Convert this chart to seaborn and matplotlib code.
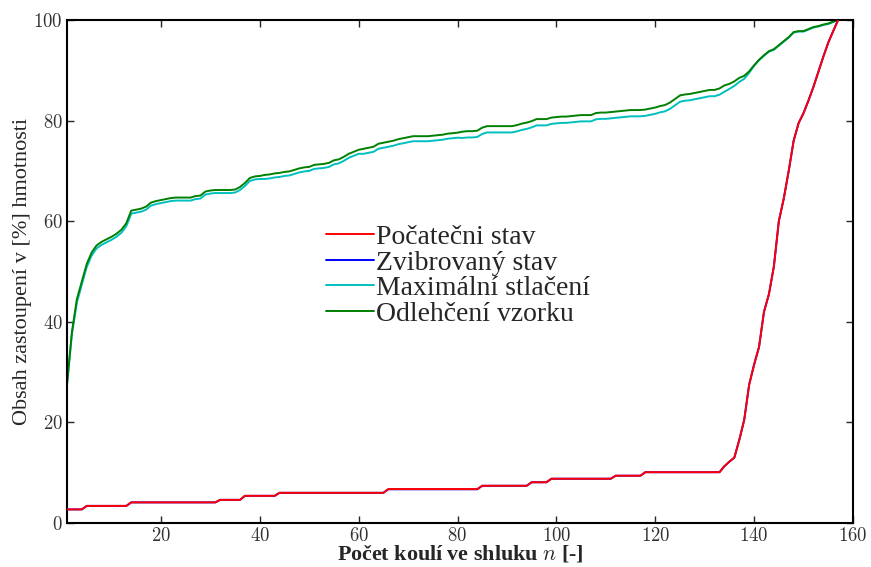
import numpy as np
import pandas as pd
import seaborn as sns
import matplotlib.pyplot as plt

# Cumulative mass fraction [%] vs. number of balls in cluster n = 1..157
n_values = list(range(1, 158))

pocatecni = [
    2.7, 2.7, 2.7, 2.7, 3.4, 3.4, 3.4, 3.4, 3.4, 3.4,
    3.4, 3.4, 3.4, 4.1, 4.1, 4.1, 4.1, 4.1, 4.1, 4.1,
    4.1, 4.1, 4.1, 4.1, 4.1, 4.1, 4.1, 4.1, 4.1, 4.1,
    4.1, 4.6, 4.6, 4.6, 4.6, 4.6, 5.4, 5.4, 5.4, 5.4,
    5.4, 5.4, 5.4, 6.0, 6.0, 6.0, 6.0, 6.0, 6.0, 6.0,
    6.0, 6.0, 6.0, 6.0, 6.0, 6.0, 6.0, 6.0, 6.0, 6.0,
    6.0, 6.0, 6.0, 6.0, 6.0, 6.75, 6.75, 6.75, 6.75, 6.75,
    6.75, 6.75, 6.75, 6.75, 6.75, 6.75, 6.75, 6.75, 6.75, 6.75,
    6.75, 6.75, 6.75, 6.75, 7.4, 7.4, 7.4, 7.4, 7.4, 7.4,
    7.4, 7.4, 7.4, 7.4, 8.1, 8.1, 8.1, 8.1, 8.8, 8.8,
    8.8, 8.8, 8.8, 8.8, 8.8, 8.8, 8.8, 8.8, 8.8, 8.8,
    8.8, 9.4, 9.4, 9.4, 9.4, 9.4, 9.4, 10.1, 10.1, 10.1,
    10.1, 10.1, 10.1, 10.1, 10.1, 10.1, 10.1, 10.1, 10.1, 10.1,
    10.1, 10.1, 10.1, 11.3, 12.2, 13.0, 16.5, 20.5, 27.5, 31.5,
    35.0, 42.0, 45.5, 51.0, 60.0, 64.5, 70.0, 76.0, 79.5, 81.5,
    84.0, 86.7, 89.7, 92.7, 95.5, 97.8, 100.0,
]

zvibrovany = [
    2.7, 2.7, 2.7, 2.7, 3.4, 3.4, 3.4, 3.4, 3.4, 3.4,
    3.4, 3.4, 3.4, 4.1, 4.1, 4.1, 4.1, 4.1, 4.1, 4.1,
    4.1, 4.1, 4.1, 4.1, 4.1, 4.1, 4.1, 4.1, 4.1, 4.1,
    4.1, 4.6, 4.6, 4.6, 4.6, 4.6, 5.4, 5.4, 5.4, 5.4,
    5.4, 5.4, 5.4, 6.0, 6.0, 6.0, 6.0, 6.0, 6.0, 6.0,
    6.0, 6.0, 6.0, 6.0, 6.0, 6.0, 6.0, 6.0, 6.0, 6.0,
    6.0, 6.0, 6.0, 6.0, 6.0, 6.7, 6.7, 6.7, 6.7, 6.7,
    6.7, 6.7, 6.7, 6.7, 6.7, 6.7, 6.7, 6.7, 6.7, 6.7,
    6.7, 6.7, 6.7, 6.7, 7.4, 7.4, 7.4, 7.4, 7.4, 7.4,
    7.4, 7.4, 7.4, 7.4, 8.1, 8.1, 8.1, 8.1, 8.8, 8.8,
    8.8, 8.8, 8.8, 8.8, 8.8, 8.8, 8.8, 8.8, 8.8, 8.8,
    8.8, 9.4, 9.4, 9.4, 9.4, 9.4, 9.4, 10.1, 10.1, 10.1,
    10.1, 10.1, 10.1, 10.1, 10.1, 10.1, 10.1, 10.1, 10.1, 10.1,
    10.1, 10.1, 10.1, 11.3, 12.2, 13.0, 16.5, 20.5, 27.5, 31.5,
    35.0, 42.0, 45.5, 51.0, 60.0, 64.5, 70.0, 76.0, 79.5, 81.5,
    84.0, 86.7, 89.7, 92.7, 95.5, 97.8, 100.0,
]

maximalni = [
    27.5, 37.5, 43.8, 47.4, 50.9, 53.2, 54.6, 55.3, 55.8, 56.3,
    56.9, 57.7, 59.0, 61.5, 61.7, 61.9, 62.3, 63.1, 63.4, 63.6,
    63.8, 64.0, 64.1, 64.1, 64.1, 64.1, 64.4, 64.5, 65.3, 65.5,
    65.6, 65.6, 65.6, 65.6, 65.7, 66.2, 67.0, 68.0, 68.3, 68.4,
    68.4, 68.5, 68.7, 68.8, 69.0, 69.1, 69.4, 69.7, 69.9, 70.0,
    70.4, 70.5, 70.6, 70.8, 71.3, 71.5, 72.0, 72.6, 73.0, 73.4,
    73.4, 73.6, 73.8, 74.4, 74.6, 74.8, 75.0, 75.3, 75.5, 75.7,
    75.9, 75.9, 75.9, 75.9, 76.0, 76.1, 76.2, 76.4, 76.5, 76.6,
    76.55, 76.65, 76.65, 76.75, 77.35, 77.65, 77.65, 77.65, 77.65, 77.65,
    77.65, 77.85, 78.15, 78.35, 78.65, 79.05, 79.05, 79.05, 79.35, 79.45,
    79.55, 79.55, 79.65, 79.75, 79.85, 79.85, 79.85, 80.25, 80.35, 80.35,
    80.45, 80.55, 80.65, 80.75, 80.85, 80.85, 80.85, 80.95, 81.15, 81.35,
    81.65, 81.85, 82.35, 83.05, 83.75, 83.95, 84.05, 84.25, 84.45, 84.65,
    84.85, 84.85, 85.15, 85.75, 86.3, 86.9, 87.7, 88.3, 89.5, 90.9,
    92.0, 92.9, 93.7, 94.1, 94.9, 95.7, 96.5, 97.5, 97.7, 97.7,
    98.1, 98.5, 98.7, 99.0, 99.2, 99.6, 100.0,
]

odlehceni = [
    27.5, 38.0, 44.5, 48.0, 51.5, 53.8, 55.2, 55.9, 56.4, 56.9,
    57.5, 58.3, 59.6, 62.1, 62.3, 62.5, 62.9, 63.7, 64.0, 64.2,
    64.4, 64.6, 64.7, 64.7, 64.7, 64.7, 65.0, 65.1, 65.9, 66.1,
    66.2, 66.2, 66.2, 66.2, 66.3, 66.8, 67.6, 68.6, 68.9, 69.0,
    69.2, 69.3, 69.5, 69.6, 69.8, 69.9, 70.2, 70.5, 70.7, 70.8,
    71.2, 71.3, 71.4, 71.6, 72.1, 72.3, 72.8, 73.4, 73.8, 74.2,
    74.4, 74.6, 74.8, 75.4, 75.6, 75.8, 76.0, 76.3, 76.5, 76.7,
    76.9, 76.9, 76.9, 76.9, 77.0, 77.1, 77.2, 77.4, 77.5, 77.6,
    77.8, 77.9, 77.9, 78.0, 78.6, 78.9, 78.9, 78.9, 78.9, 78.9,
    78.9, 79.1, 79.4, 79.6, 79.9, 80.3, 80.3, 80.3, 80.6, 80.7,
    80.8, 80.8, 80.9, 81.0, 81.1, 81.1, 81.1, 81.5, 81.6, 81.6,
    81.7, 81.8, 81.9, 82.0, 82.1, 82.1, 82.1, 82.2, 82.4, 82.6,
    82.9, 83.1, 83.6, 84.3, 85.0, 85.2, 85.3, 85.5, 85.7, 85.9,
    86.1, 86.1, 86.4, 87.0, 87.3, 87.8, 88.5, 88.9, 89.8, 91.0,
    92.1, 93.0, 93.8, 94.2, 95.0, 95.8, 96.6, 97.6, 97.8, 97.8,
    98.2, 98.6, 98.8, 99.1, 99.3, 99.7, 100.0,
]

series_names = ["Počatečni stav", "Zvibrovaný stav", "Maximální stlačení", "Odlehčení vzorku"]
series_colors = ["#ff0000", "#0000ff", "#00bfbf", "#008000"]
x_ticks = [20, 40, 60, 80, 100, 120, 140, 160]
y_ticks = [0, 20, 40, 60, 80, 100]

sns.set_style("ticks")
plt.rcParams["font.family"] = ["cmr10", "Liberation Serif"]
plt.rcParams["mathtext.fontset"] = "cm"
plt.rcParams["axes.unicode_minus"] = False
plt.rcParams["axes.formatter.use_mathtext"] = True

text_font = ["Liberation Serif"]

fig = plt.figure(figsize=(8.71, 5.67), dpi=100)
ax = fig.add_axes([0.0769, 0.0776, 0.9024, 0.8871])

frames = []
for name, vals in zip(series_names, [pocatecni, zvibrovany, maximalni, odlehceni]):
    frames.append(pd.DataFrame({"n": n_values, "obsah": vals, "serie": name}))
df = pd.concat(frames, ignore_index=True)

zorders = [4, 3, 2, 2.5]
for name, color, z in zip(series_names, series_colors, zorders):
    sns.lineplot(data=df[df["serie"] == name], x="n", y="obsah", color=color,
                 linewidth=1.4, label=name, ax=ax, zorder=z)

ax.set_xlim(1, 160)
ax.set_ylim(0, 100)
ax.set_xticks(x_ticks)
ax.set_yticks(y_ticks)
ax.tick_params(direction="in", top=True, right=True, length=5, width=1,
               labelsize=13.5, labelcolor="#333333", pad=3)
for sp in ax.spines.values():
    sp.set_linewidth(1.5)
    sp.set_color("black")

ax.set_xlabel("Počet koulí ve shluku $n$ [-]", fontsize=15.8, fontweight="bold",
              family=text_font, labelpad=-1)
ax.set_ylabel("Obsah zastoupení v [%] hmotnosti", fontsize=16, family=text_font,
              labelpad=1)

leg = ax.legend(loc="upper left", bbox_to_anchor=(0.329, 0.593), frameon=False,
                prop={"family": text_font, "size": 20}, handlelength=1.75,
                handletextpad=0.05, labelspacing=0.0, borderaxespad=0, borderpad=0)

fig.savefig("out.png", dpi=100)
